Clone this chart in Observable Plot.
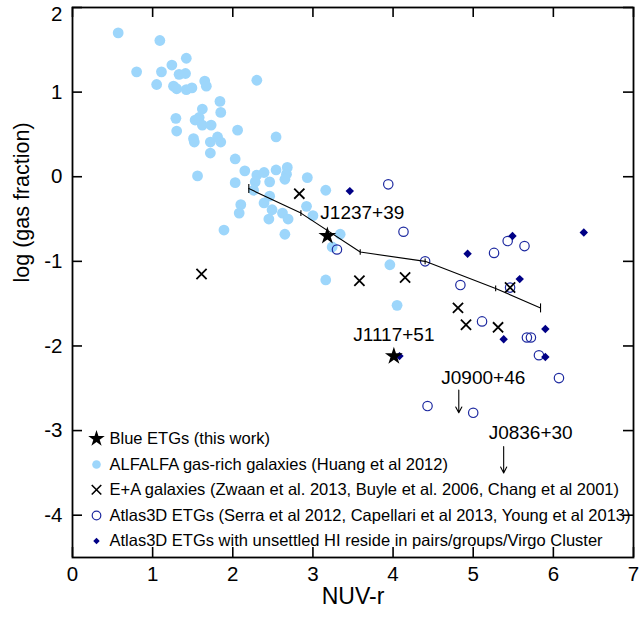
<!DOCTYPE html>
<html><head><meta charset="utf-8">
<script src="https://cdn.jsdelivr.net/npm/d3@7"></script>
<script src="https://cdn.jsdelivr.net/npm/@observablehq/plot@0.6"></script>
<style>
body{margin:0;background:#fff;}
#chart svg{font-family:"Liberation Sans",Arial,Helvetica,sans-serif;}
</style>
</head><body><div id="chart"></div>
<script>
// ALFALFA gas-rich galaxies
const alfalfaX = [0.57,1.09,0.80,1.11,1.24,1.42,1.05,1.33,1.41,1.26,1.30,1.42,1.49,1.65,1.67,2.30,1.84,1.62,1.85,1.29,1.53,1.58,1.62,1.73,1.30,2.06,1.51,1.52,1.72,1.81,1.85,2.54,1.72,2.03,1.56,2.15,2.03,2.30,2.39,2.28,2.46,2.54,2.68,2.67,2.65,2.93,2.26,2.46,2.39,2.49,2.10,2.08,2.62,2.69,2.45,1.89,2.65,2.92,3.16,3.00,3.34,3.24,3.96,3.16,4.05];
const alfalfaY = [1.70,1.61,1.24,1.24,1.32,1.40,1.09,1.21,1.22,1.07,1.04,1.03,1.05,1.13,1.07,1.14,0.89,0.80,0.76,0.69,0.67,0.70,0.61,0.61,0.54,0.55,0.45,0.41,0.41,0.47,0.41,0.47,0.28,0.21,0.01,0.07,-0.07,0.02,0.05,-0.06,-0.06,0.08,0.11,0.03,-0.03,-0.01,-0.16,-0.23,-0.31,-0.39,-0.33,-0.43,-0.43,-0.50,-0.50,-0.63,-0.68,-0.35,-0.16,-0.46,-0.68,-0.83,-1.04,-1.22,-1.52];
// E+A galaxies
const eaX = [2.83,1.61,3.58,4.15,4.81,4.91,5.31,5.46];
const eaY = [-0.20,-1.15,-1.23,-1.19,-1.55,-1.75,-1.78,-1.31];
// Atlas3D ETGs
const atlasX = [3.94,4.13,3.30,4.40,5.26,5.43,5.64,4.84,5.46,5.11,5.67,5.72,5.82,6.07,4.43,5.00];
const atlasY = [-0.09,-0.65,-0.86,-1.00,-0.90,-0.76,-0.82,-1.28,-1.31,-1.71,-1.90,-1.90,-2.11,-2.38,-2.71,-2.79];
// Atlas3D ETGs with unsettled HI
const unsetX = [3.46,4.93,5.49,6.38,5.58,5.90,5.38,5.90,4.08];
const unsetY = [-0.17,-0.91,-0.70,-0.66,-1.21,-1.80,-1.92,-2.13,-2.12];
// Blue ETGs (this work)
const starNames = ["J1237+39","J1117+51"];
const starX = [3.18,4.01];
const starY = [-0.70,-2.12];
// Upper limits
const limNames = ["J0900+46","J0836+30"];
const limX = [4.82,5.38];
const limTop = [-2.52,-3.19];
const limTip = [-2.79,-3.50];
// Binned relation
const binX = [2.20,2.85,3.59,4.40,5.28,5.84];
const binY = [-0.14,-0.43,-0.89,-1.00,-1.32,-1.55];
// Axis ticks
const xTicks = [0,1,2,3,4,5,6,7];
const yTicks = [-4,-3,-2,-1,0,1,2];
const legendLabels = [
  "Blue ETGs (this work)",
  "ALFALFA gas-rich galaxies (Huang et al 2012)",
  "E+A galaxies (Zwaan et al. 2013, Buyle et al. 2006, Chang et al 2001)",
  "Atlas3D ETGs (Serra et al 2012, Capellari et al 2013, Young et al 2013)",
  "Atlas3D ETGs with unsettled HI reside in pairs/groups/Virgo Cluster"
];

const zip = (xs, ys) => xs.map((x, i) => ({x, y: ys[i]}));
const alfalfa = zip(alfalfaX, alfalfaY);
const ea = zip(eaX, eaY);
const atlas = zip(atlasX, atlasY);
const unset = zip(unsetX, unsetY);
const stars = starNames.map((name, i) => ({name, x: starX[i], y: starY[i]}));
const lims = limNames.map((name, i) => ({name, x: limX[i], top: limTop[i], tip: limTip[i]}));
const bins = zip(binX, binY);

const W = 640, H = 618, mL = 72, mR = 7, mT = 7, mB = 61;
const fW = W - mL - mR, fH = H - mT - mB;
const TICK = 10;

const capSymbol = {draw(ctx, size) { const r = Math.sqrt(size / Math.PI); ctx.moveTo(0, -r); ctx.lineTo(0, r); }};

const lightBlue = "#9dd6fb", circBlue = "#1e2aa0", navy = "#000086";

const legendSpec = [
  {symbol: "star", r: 5.2, fill: "black", stroke: "none", sw: 0},
  {symbol: "circle", r: 4.3, fill: lightBlue, stroke: "none", sw: 0},
  {symbol: "times", r: 4.4, fill: "none", stroke: "black", sw: 1.6},
  {symbol: "circle", r: 4.3, fill: "none", stroke: circBlue, sw: 1.2},
  {symbol: "diamond2", r: 2.9, fill: navy, stroke: "none", sw: 0}
];
const legendDy = [-118.7, -93, -67.7, -42, -16.5];

const legendMarks = legendLabels.flatMap((label, i) => [
  Plot.dot([label], {frameAnchor: "bottom-left", dx: 24, dy: legendDy[i], symbol: legendSpec[i].symbol, r: legendSpec[i].r, fill: legendSpec[i].fill, stroke: legendSpec[i].stroke, strokeWidth: legendSpec[i].sw}),
  Plot.text([label], {frameAnchor: "bottom-left", dx: 37, dy: legendDy[i], text: d => d, textAnchor: "start", lineAnchor: "middle", fontSize: 16.5, fill: "black"})
]);

const chart = Plot.plot({
  width: W, height: H,
  marginLeft: mL, marginRight: mR, marginTop: mT, marginBottom: mB,
  x: {domain: [0, 7], axis: null},
  y: {domain: [-4.5, 2], axis: null},
  style: {fontFamily: '"Liberation Sans",Arial,Helvetica,sans-serif', background: "white", overflow: "visible"},
  marks: [
    // data
    Plot.dot(alfalfa, {x: "x", y: "y", r: 5.4, fill: lightBlue, stroke: "none"}),
    Plot.dot(atlas, {x: "x", y: "y", r: 4.7, fill: "none", stroke: circBlue, strokeWidth: 1.2}),
    Plot.dot(unset, {x: "x", y: "y", symbol: "diamond2", r: 3.8, fill: navy, stroke: "none"}),
    Plot.dot(ea, {x: "x", y: "y", symbol: "times", r: 4.7, fill: "none", stroke: "black", strokeWidth: 1.8}),
    Plot.line(bins, {x: "x", y: "y", stroke: "black", strokeWidth: 1.1}),
    Plot.dot(bins.filter((d, i) => i === 0 || i === bins.length - 1), {x: "x", y: "y", symbol: capSymbol, r: 4.5, fill: "none", stroke: "black", strokeWidth: 1.1}),
    Plot.dot(bins.filter((d, i) => i > 0 && i < bins.length - 1), {x: "x", y: "y", symbol: capSymbol, r: 2.8, fill: "none", stroke: "black", strokeWidth: 1.1}),
    Plot.dot(stars, {x: "x", y: "y", symbol: "star", r: 5.6, fill: "black", stroke: "none"}),
    Plot.arrow(lims, {x1: "x", x2: "x", y1: "top", y2: "tip", stroke: "black", strokeWidth: 1.1, headLength: 9, headAngle: 55}),
    // labels
    Plot.text(stars.slice(0, 1), {x: "x", y: "y", text: "name", dx: -7, dy: -23.5, textAnchor: "start", fontSize: 19, fill: "black"}),
    Plot.text(stars.slice(1, 2), {x: "x", y: "y", text: "name", dx: 0, dy: -21, textAnchor: "middle", fontSize: 19, fill: "black"}),
    Plot.text(lims.slice(0, 1), {x: "x", y: "top", text: "name", dx: 24.5, dy: -12, textAnchor: "middle", fontSize: 19, fill: "black"}),
    Plot.text(lims.slice(1, 2), {x: "x", y: "top", text: "name", dx: 27, dy: -13.5, textAnchor: "middle", fontSize: 19, fill: "black"}),
    // legend
    ...legendMarks,
    // frame & ticks
    Plot.frame({stroke: "black", strokeWidth: 1.8}),
    Plot.ruleX(xTicks, {x: d => d, insetTop: fH - TICK, stroke: "black", strokeWidth: 1.6}),
    Plot.ruleX(xTicks, {x: d => d, insetBottom: fH - TICK, stroke: "black", strokeWidth: 1.6}),
    Plot.ruleY(yTicks, {y: d => d, insetRight: fW - TICK, stroke: "black", strokeWidth: 1.6}),
    Plot.ruleY(yTicks, {y: d => d, insetLeft: fW - TICK, stroke: "black", strokeWidth: 1.6}),
    // tick labels
    Plot.text(xTicks, {x: d => d, text: d => String(d), frameAnchor: "bottom", dy: 23, fontSize: 20.5, fill: "black"}),
    Plot.text(yTicks.filter(d => d < 2), {y: d => d, text: d => String(d), frameAnchor: "left", dx: -10, textAnchor: "end", fontSize: 20.5, fill: "black"}),
    Plot.text(yTicks.filter(d => d === 2), {y: d => d, text: d => String(d), frameAnchor: "left", dx: -10, dy: 7, textAnchor: "end", fontSize: 20.5, fill: "black"}),
    // axis titles
    Plot.text(["NUV-r"], {frameAnchor: "bottom", dy: 46, text: d => d, fontSize: 23, fill: "black"}),
    Plot.text(["log (gas fraction)"], {frameAnchor: "left", dx: -50, rotate: -90, text: d => d, fontSize: 21.5, fill: "black"})
  ]
});
document.getElementById("chart").appendChild(chart);
</script>
</body></html>
